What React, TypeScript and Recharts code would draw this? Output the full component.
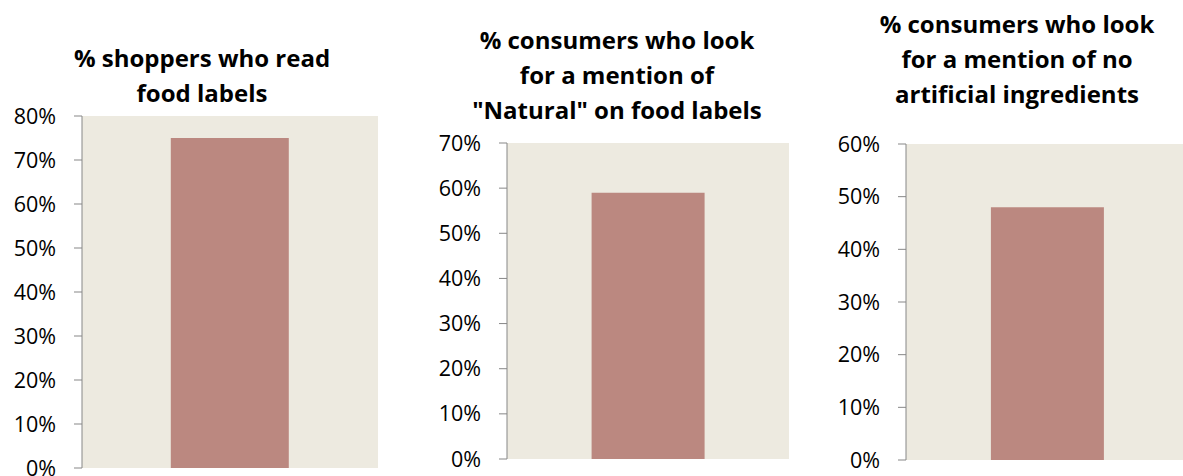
import React from 'react';
import { BarChart, Bar, XAxis, YAxis, CartesianGrid } from 'recharts';

// ---- data ----
const categories = ['All'];
const readLabels = [75];
const lookNatural = [59];
const lookNoArtificial = [48];

const ticksRead = [0, 10, 20, 30, 40, 50, 60, 70, 80];
const ticksNatural = [0, 10, 20, 30, 40, 50, 60, 70];
const ticksNoArtificial = [0, 10, 20, 30, 40, 50, 60];

const titleRead = ['% shoppers who read', 'food labels'];
const titleNatural = ['% consumers who look', 'for a mention of', '"Natural" on food labels'];
const titleNoArtificial = ['% consumers who look', 'for a mention of no', 'artificial ingredients'];

const BAR = '#BB8880';
const PLOT_BG = '#EDEAE0';
const AXIS = '#878787';
const FONT = '"Open Sans", sans-serif';

const toRows = (values: number[]) => categories.map((c, i) => ({ name: c, value: values[i] }));

interface PanelProps {
  values: number[];
  ticks: number[];
  title: string[];
  left: number;
  width: number;
  margin: { top: number; right: number; bottom: number; left: number };
  titleX: number;
  titleY: number;
}

const Panel: React.FC<PanelProps> = ({ values, ticks, title, left, width, margin, titleX, titleY }) => {
  const rows = toRows(values);
  return (
    <>
      <div
        style={{
          position: 'absolute',
          left: titleX - 200,
          top: titleY - 17.5,
          width: 400,
          textAlign: 'center',
          fontFamily: FONT,
          fontWeight: 700,
          fontSize: 24,
          lineHeight: '35px',
          color: '#000',
        }}
      >
        {title.map((t) => (
          <div key={t}>{t}</div>
        ))}
      </div>
      <div style={{ position: 'absolute', left, top: 0 }}>
        <BarChart width={width} height={476} data={rows} margin={margin} barCategoryGap="30%">
          <CartesianGrid fill={PLOT_BG} stroke="none" horizontal={false} vertical={false} />
          <XAxis dataKey="name" hide />
          <XAxis
            xAxisId="edge"
            type="number"
            domain={[0, 1]}
            ticks={[0, 1]}
            interval={0}
            tick={false}
            tickSize={8}
            height={8}
            stroke={AXIS}
            axisLine={{ stroke: AXIS }}
            tickLine={{ stroke: AXIS }}
          />
          <YAxis
            type="number"
            domain={[0, ticks[ticks.length - 1]]}
            ticks={ticks}
            interval={0}
            width={60}
            tickSize={8}
            tickMargin={18}
            tickFormatter={(v: number) => `${v}%`}
            axisLine={{ stroke: AXIS }}
            tickLine={{ stroke: AXIS }}
            tick={{ fill: '#000', fontSize: 21.5, fontFamily: FONT }}
          />
          <Bar dataKey="value" fill={BAR} isAnimationActive={false} />
        </BarChart>
      </div>
    </>
  );
};

export default function App() {
  return (
    <div
      style={{
        position: 'absolute',
        left: 0,
        top: 0,
        width: 1183,
        height: 476,
        overflow: 'hidden',
        background: '#fff',
      }}
    >
      <Panel
        values={readLabels}
        ticks={ticksRead}
        title={titleRead}
        left={0}
        width={395}
        margin={{ top: 116, right: 17, bottom: 0, left: 22 }}
        titleX={202}
        titleY={57}
      />
      <Panel
        values={lookNatural}
        ticks={ticksNatural}
        title={titleNatural}
        left={400}
        width={400}
        margin={{ top: 143, right: 11, bottom: 9, left: 47 }}
        titleX={617}
        titleY={39}
      />
      <Panel
        values={lookNoArtificial}
        ticks={ticksNoArtificial}
        title={titleNoArtificial}
        left={800}
        width={389}
        margin={{ top: 144, right: 0, bottom: 8, left: 46 }}
        titleX={1017}
        titleY={23}
      />
    </div>
  );
}
